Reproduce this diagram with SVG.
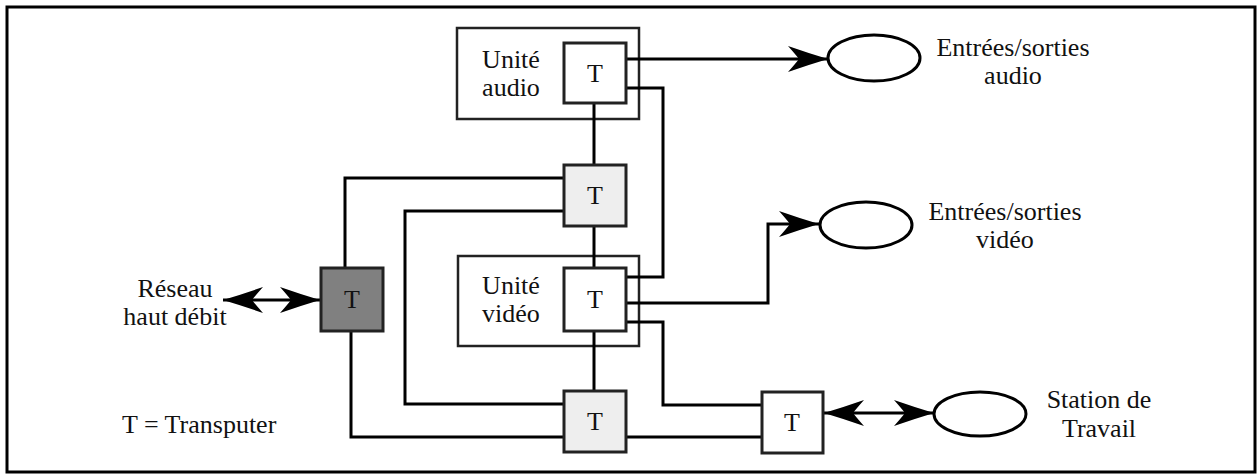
<svg xmlns="http://www.w3.org/2000/svg" width="1257" height="474" viewBox="0 0 1257 474">
<defs>
<style>
text{font-family:"Liberation Serif","Times New Roman",Times,serif;font-size:26px;fill:#111}
.c{text-anchor:middle}
.w{fill:none;stroke:#000;stroke-width:3;stroke-linejoin:miter}
.unit{fill:#fff;stroke:#222;stroke-width:2.5}
.t{fill:#fff;stroke:#222;stroke-width:3}
.tl{fill:#eeeeee;stroke:#222;stroke-width:3}
.td{fill:#808080;stroke:#222;stroke-width:3}
.ell{fill:#fff;stroke:#000;stroke-width:3}
</style>
<marker id="ah" markerUnits="userSpaceOnUse" viewBox="-42 -15 44 30" refX="0" refY="0" markerWidth="44" markerHeight="30" orient="auto-start-reverse">
<path d="M0,0 Q-20,-6 -40,-13 Q-32,-4 -29,0 Q-32,4 -40,13 Q-20,6 0,0 Z" fill="#000"/>
</marker>
</defs>
<rect x="7" y="7" width="1248" height="465" fill="#fff" stroke="#000" stroke-width="3"/>

<g id="unit-audio">
<rect class="unit" x="457" y="28" width="182" height="91"/>
<text class="c" x="511" y="68">Unité</text>
<text class="c" x="511" y="96">audio</text>
</g>
<g id="unit-video">
<rect class="unit" x="458" y="256" width="181" height="90"/>
<text class="c" x="511" y="294">Unité</text>
<text class="c" x="511" y="322">vidéo</text>
</g>

<g id="connectors">
<polyline class="w" points="594,103 594,165"/>
<polyline class="w" points="594,226 594,268"/>
<polyline class="w" points="594,331 594,391"/>
<polyline class="w" points="626,88 663,88 663,277 626,277"/>
<polyline class="w" points="626,322 663,322 663,405 762,405"/>
<polyline class="w" points="564,178 345,178 345,268"/>
<polyline class="w" points="564,211 405,211 405,404 564,404"/>
<polyline class="w" points="351,331 351,437 564,437"/>
<polyline class="w" points="626,437 762,437"/>
<polyline class="w" points="626,59 828,59" marker-end="url(#ah)"/>
<polyline class="w" points="626,303 768,303 768,224 819,224" marker-end="url(#ah)"/>
<polyline class="w" points="223,300 320,300" marker-start="url(#ah)" marker-end="url(#ah)"/>
<polyline class="w" points="824,413 934,413" marker-start="url(#ah)" marker-end="url(#ah)"/>
</g>

<g id="t-audio">
<rect class="t" x="564" y="43" width="62" height="60"/>
<text class="c" x="595" y="82">T</text>
</g>
<g id="t-top">
<rect class="tl" x="564" y="165" width="62" height="61"/>
<text class="c" x="595" y="204">T</text>
</g>
<g id="t-video">
<rect class="t" x="564" y="268" width="62" height="63"/>
<text class="c" x="595" y="308">T</text>
</g>
<g id="t-bottom">
<rect class="tl" x="564" y="391" width="62" height="61"/>
<text class="c" x="595" y="430">T</text>
</g>
<g id="t-network">
<rect class="td" x="321" y="268" width="62" height="63"/>
<text class="c" x="352" y="308">T</text>
</g>
<g id="t-station">
<rect class="t" x="762" y="392" width="61" height="61"/>
<text class="c" x="792" y="431">T</text>
</g>

<g id="io-audio">
<ellipse class="ell" cx="874" cy="58" rx="46" ry="23"/>
<text class="c" x="1013" y="56">Entrées/sorties</text>
<text class="c" x="1013" y="84">audio</text>
</g>
<g id="io-video">
<ellipse class="ell" cx="866" cy="225" rx="46" ry="23"/>
<text class="c" x="1005" y="220">Entrées/sorties</text>
<text class="c" x="1005" y="248">vidéo</text>
</g>
<g id="station">
<ellipse class="ell" cx="980" cy="414" rx="46" ry="22"/>
<text class="c" x="1099" y="408">Station de</text>
<text class="c" x="1099" y="437">Travail</text>
</g>
<g id="network">
<text class="c" x="175" y="297">Réseau</text>
<text class="c" x="175" y="325">haut débit</text>
</g>
<g id="legend">
<text x="122" y="433">T = Transputer</text>
</g>
</svg>
